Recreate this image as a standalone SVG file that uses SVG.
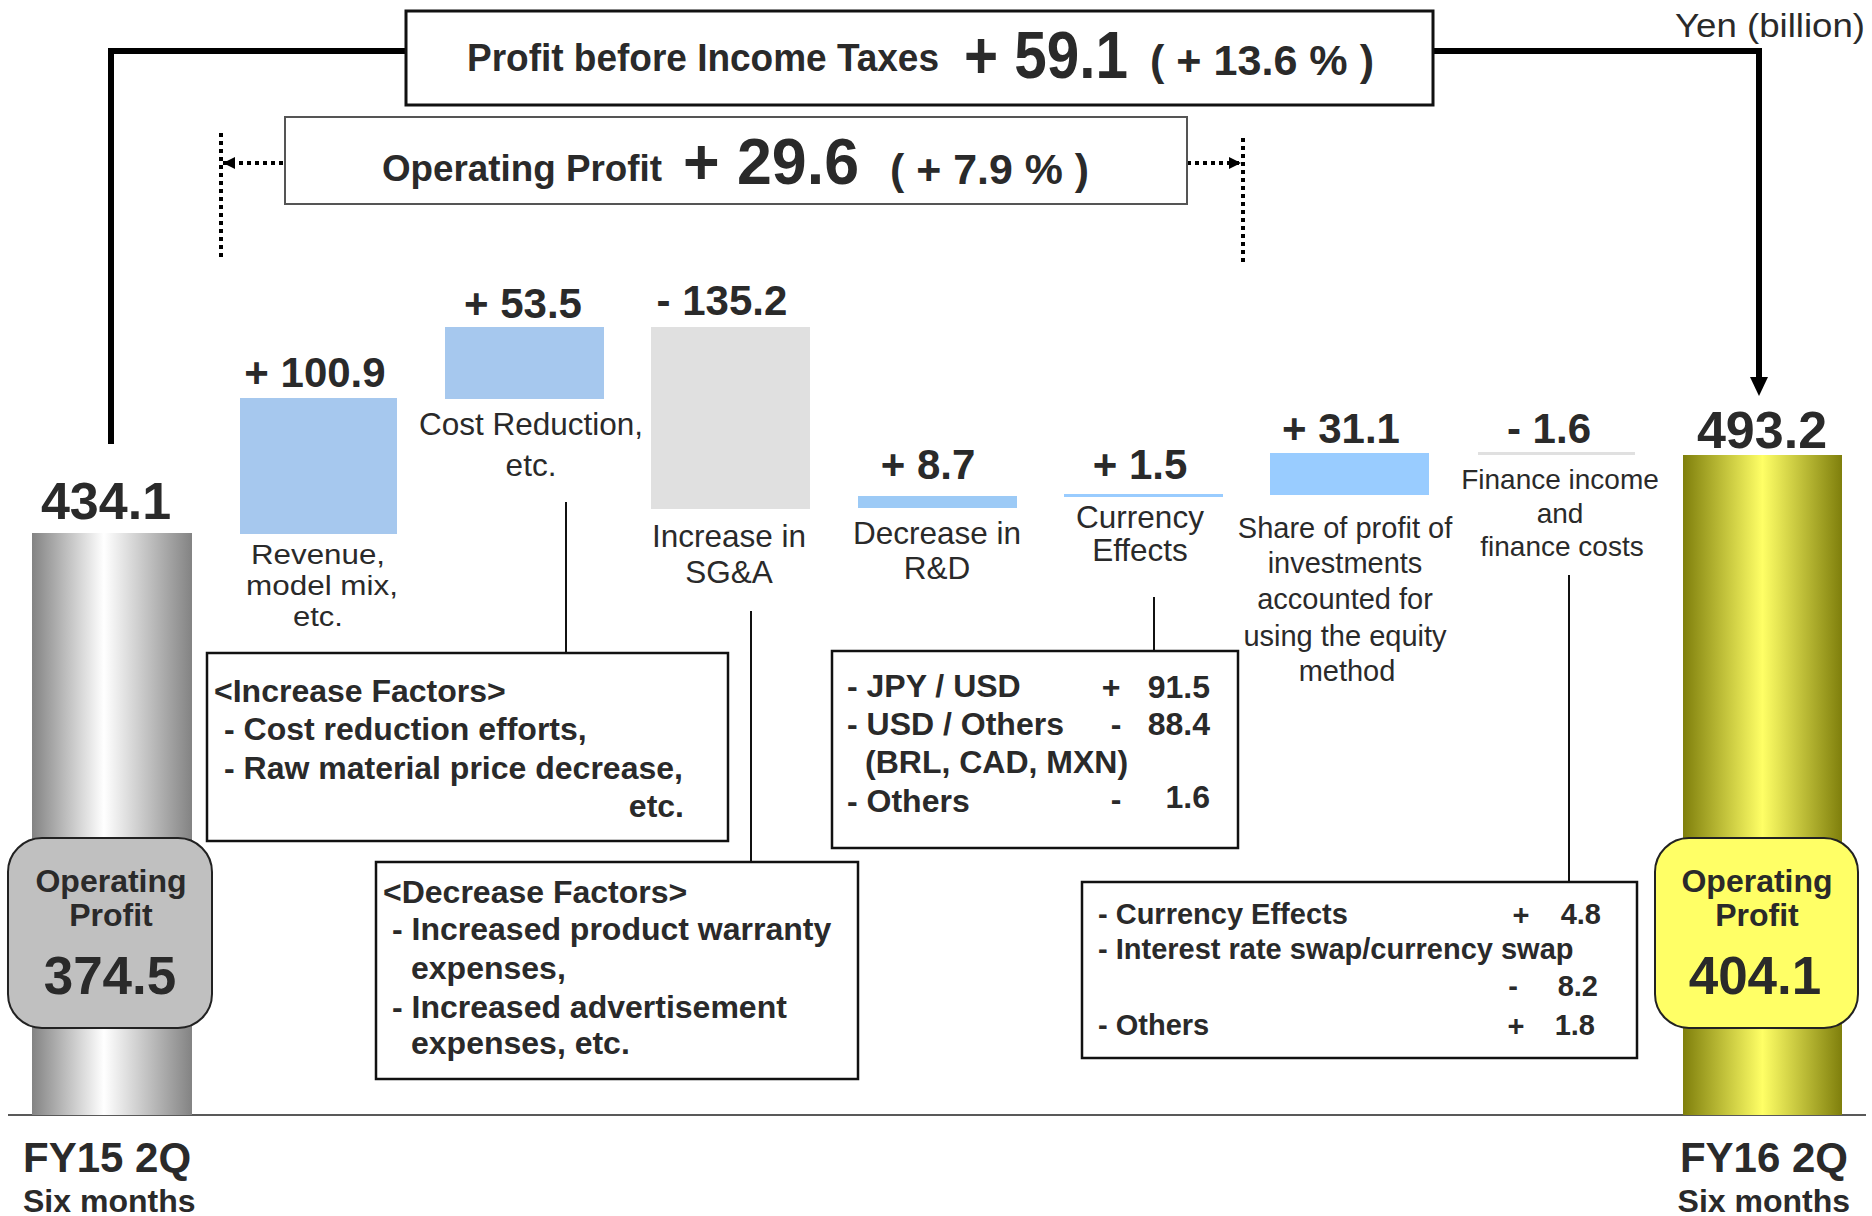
<svg xmlns="http://www.w3.org/2000/svg" width="1872" height="1216" viewBox="0 0 1872 1216">
<style>
text{font-family:"Liberation Sans",Arial,sans-serif;fill:#2a2a2a}
.b{font-weight:bold}
.m{text-anchor:middle}
.e{text-anchor:end}
.lbl{font-size:31.5px}
.lbr{font-size:27px}
.lbs{font-size:29px}
.lbf{font-size:28px}
.val{font-size:42px;font-weight:bold;text-anchor:middle}
.bx{font-size:32px;font-weight:bold}
.fx{font-size:29px;font-weight:bold}
.box{fill:#fff;stroke:#111;stroke-width:2.5}
.thin{stroke:#111;stroke-width:2;fill:none}
.thick{stroke:#000;stroke-width:6;fill:none}
.dot{stroke:#000;stroke-width:4;stroke-dasharray:4 4;fill:none}
</style>
<defs>
<linearGradient id="gGray" x1="0" y1="0" x2="1" y2="0">
<stop offset="0" stop-color="#838383"/>
<stop offset="0.45" stop-color="#ffffff"/>
<stop offset="1" stop-color="#838383"/>
</linearGradient>
<linearGradient id="gYel" x1="0" y1="0" x2="1" y2="0">
<stop offset="0" stop-color="#7f7f0c"/>
<stop offset="0.5" stop-color="#ffff66"/>
<stop offset="1" stop-color="#7f7f0c"/>
</linearGradient>
<marker id="ahs" viewBox="0 0 10 10" refX="10" refY="5" markerWidth="3" markerHeight="3" orient="auto" markerUnits="strokeWidth">
<path d="M0,0 L10,5 L0,10 z" fill="#000"/>
</marker>
</defs>

<text x="1675" y="37" font-size="33" textLength="190" lengthAdjust="spacingAndGlyphs">Yen (billion)</text>

<g id="connectors">
<path class="thick" d="M406,51 H111 V444"/>
<path class="thick" d="M1433,51 H1759 V380"/>
<path d="M1750,377 L1768,377 L1759,396 z" fill="#000"/>
<line class="dot" x1="221" y1="133" x2="221" y2="258"/>
<line class="dot" x1="1243" y1="138" x2="1243" y2="263"/>
<line class="dot" x1="283" y1="163" x2="223" y2="163" marker-end="url(#ahs)"/>
<line class="dot" x1="1187" y1="163" x2="1241" y2="163" marker-end="url(#ahs)"/>
<line class="thin" x1="566" y1="502" x2="566" y2="653"/>
<line class="thin" x1="751" y1="611" x2="751" y2="862"/>
<line class="thin" x1="1154" y1="597" x2="1154" y2="651"/>
<line class="thin" x1="1569" y1="575" x2="1569" y2="882"/>
<line x1="8" y1="1115" x2="1866" y2="1115" stroke="#222" stroke-width="1.5"/>
</g>

<g id="pbit">
<rect x="406" y="11" width="1027" height="94" fill="#fff" stroke="#111" stroke-width="3"/>
<text class="b" x="467" y="71" font-size="38" textLength="472" lengthAdjust="spacingAndGlyphs">Profit before Income Taxes</text>
<text class="b" x="964" y="78" font-size="66" textLength="164" lengthAdjust="spacingAndGlyphs">+ 59.1</text>
<text class="b" x="1150" y="75" font-size="43" textLength="224" lengthAdjust="spacingAndGlyphs">( + 13.6 % )</text>
</g>

<g id="op-change">
<rect x="285" y="117" width="902" height="87" fill="#fff" stroke="#555" stroke-width="2"/>
<text class="b" x="382" y="181" font-size="37" textLength="280" lengthAdjust="spacingAndGlyphs">Operating Profit</text>
<text class="b" x="683" y="184" font-size="64" textLength="176" lengthAdjust="spacingAndGlyphs">+ 29.6</text>
<text class="b" x="890" y="184" font-size="43" textLength="199" lengthAdjust="spacingAndGlyphs">( + 7.9 % )</text>
</g>

<g id="fy15">
<rect x="32" y="533" width="160" height="582" fill="url(#gGray)"/>
<text class="b m" x="106" y="519" font-size="52">434.1</text>
<rect x="8" y="838" width="204" height="190" rx="34" ry="34" fill="#c0c0c0" stroke="#222" stroke-width="2"/>
<text class="b m" x="111" y="892" font-size="32">Operating</text>
<text class="b m" x="111" y="926" font-size="32">Profit</text>
<text class="b m" x="110" y="994" font-size="53">374.5</text>
<text class="b" x="23" y="1172" font-size="42">FY15 2Q</text>
<text class="b" x="23" y="1212" font-size="32">Six months</text>
</g>

<g id="revenue">
<rect x="240" y="398" width="157" height="136" fill="#a6c8ee"/>
<text class="val" x="315" y="387">+ 100.9</text>
<text class="lbr m" x="318" y="564" textLength="134" lengthAdjust="spacingAndGlyphs">Revenue,</text>
<text class="lbr m" x="322" y="595" textLength="152" lengthAdjust="spacingAndGlyphs">model mix,</text>
<text class="lbr m" x="318" y="626" textLength="50" lengthAdjust="spacingAndGlyphs">etc.</text>
</g>

<g id="cost-reduction">
<rect x="445" y="327" width="159" height="72" fill="#a6c8ee"/>
<text class="val" x="523" y="318">+ 53.5</text>
<text class="lbl m" x="531" y="435">Cost Reduction,</text>
<text class="lbl m" x="531" y="476">etc.</text>
</g>

<g id="sga">
<rect x="651" y="327" width="159" height="182" fill="#e0e0e0"/>
<text class="val" x="722" y="315">- 135.2</text>
<text class="lbl m" x="729" y="547">Increase in</text>
<text class="lbl m" x="729" y="583">SG&amp;A</text>
</g>

<g id="rnd">
<rect x="858" y="496" width="159" height="12" fill="#9ccaf6"/>
<text class="val" x="928" y="479">+ 8.7</text>
<text class="lbl m" x="937" y="544">Decrease in</text>
<text class="lbl m" x="937" y="579">R&amp;D</text>
</g>

<g id="currency">
<rect x="1064" y="494" width="159" height="3" fill="#99ccff"/>
<text class="val" x="1140" y="479">+ 1.5</text>
<text class="lbl m" x="1140" y="528">Currency</text>
<text class="lbl m" x="1140" y="561">Effects</text>
</g>

<g id="equity">
<rect x="1270" y="453" width="159" height="42" fill="#99ccff"/>
<text class="val" x="1341" y="443">+ 31.1</text>
<text class="lbs m" x="1345" y="538">Share of profit of</text>
<text class="lbs m" x="1345" y="573">investments</text>
<text class="lbs m" x="1345" y="609">accounted for</text>
<text class="lbs m" x="1345" y="646">using the equity</text>
<text class="lbs m" x="1347" y="681">method</text>
</g>

<g id="finance">
<rect x="1478" y="452" width="157" height="3" fill="#e0e0e0"/>
<text class="val" x="1549" y="443">- 1.6</text>
<text class="lbf m" x="1560" y="489">Finance income</text>
<text class="lbf m" x="1560" y="523">and</text>
<text class="lbf m" x="1562" y="556">finance costs</text>
</g>

<g id="fy16">
<rect x="1683" y="455" width="159" height="660" fill="url(#gYel)"/>
<text class="b m" x="1762" y="448" font-size="52">493.2</text>
<rect x="1655" y="838" width="203" height="190" rx="34" ry="34" fill="#ffff66" stroke="#222" stroke-width="2"/>
<text class="b m" x="1757" y="892" font-size="32">Operating</text>
<text class="b m" x="1757" y="926" font-size="32">Profit</text>
<text class="b m" x="1755" y="994" font-size="53">404.1</text>
<text class="b e" x="1848" y="1172" font-size="42">FY16 2Q</text>
<text class="b e" x="1850" y="1212" font-size="32">Six months</text>
</g>

<g id="increase-factors">
<rect class="box" x="207" y="653" width="521" height="188"/>
<text class="bx" x="214" y="702">&lt;Increase Factors&gt;</text>
<text class="bx" x="224" y="740">- Cost reduction efforts,</text>
<text class="bx" x="224" y="779">- Raw material price decrease,</text>
<text class="bx e" x="684" y="817">etc.</text>
</g>

<g id="decrease-factors">
<rect class="box" x="376" y="862" width="482" height="217"/>
<text class="bx" x="383" y="903">&lt;Decrease Factors&gt;</text>
<text class="bx" x="392" y="940">- Increased product warranty</text>
<text class="bx" x="411" y="979">expenses,</text>
<text class="bx" x="392" y="1018">- Increased advertisement</text>
<text class="bx" x="411" y="1054">expenses, etc.</text>
</g>

<g id="currency-detail">
<rect class="box" x="832" y="651" width="406" height="197"/>
<text class="bx" x="847" y="697">- JPY / USD</text>
<text class="bx m" x="1111" y="698">+</text>
<text class="bx e" x="1210" y="698">91.5</text>
<text class="bx" x="847" y="735">- USD / Others</text>
<text class="bx m" x="1116" y="735">-</text>
<text class="bx e" x="1210" y="735">88.4</text>
<text class="bx" x="865" y="773">(BRL, CAD, MXN)</text>
<text class="bx" x="847" y="812">- Others</text>
<text class="bx m" x="1116" y="810">-</text>
<text class="bx e" x="1210" y="808">1.6</text>
</g>

<g id="finance-detail">
<rect class="box" x="1082" y="882" width="555" height="176"/>
<text class="fx" x="1098" y="924">- Currency Effects</text>
<text class="fx m" x="1521" y="925">+</text>
<text class="fx e" x="1601" y="924">4.8</text>
<text class="fx" x="1098" y="959">- Interest rate swap/currency swap</text>
<text class="fx m" x="1513" y="996">-</text>
<text class="fx e" x="1598" y="996">8.2</text>
<text class="fx" x="1098" y="1035">- Others</text>
<text class="fx m" x="1516" y="1036">+</text>
<text class="fx e" x="1595" y="1035">1.8</text>
</g>
</svg>
